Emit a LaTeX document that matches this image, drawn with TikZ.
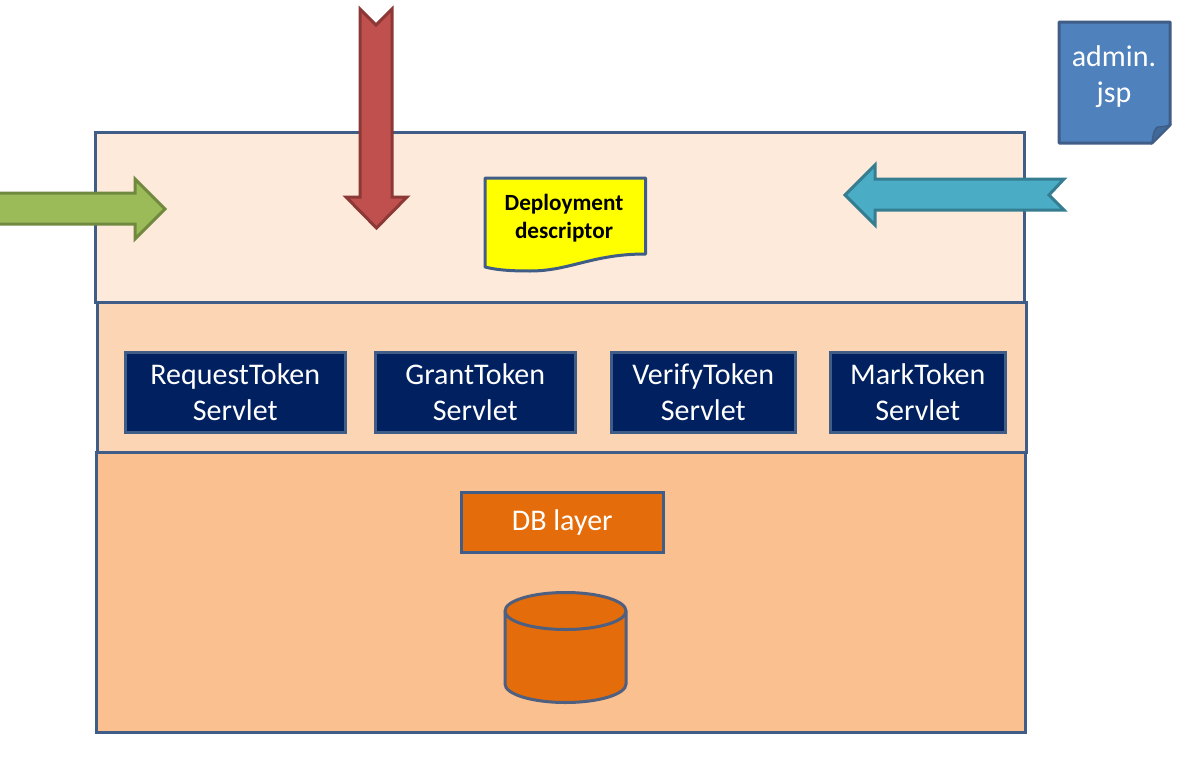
\documentclass[tikz,border=0pt]{standalone}
\usepackage{fontspec}
\setmainfont{Carlito}
\definecolor{edgeblue}{HTML}{3F5D87}
\definecolor{paneltop}{HTML}{FDEADA}
\definecolor{panelmid}{HTML}{FCD5B5}
\definecolor{panelbot}{HTML}{FAC090}
\definecolor{navy}{HTML}{002060}
\definecolor{dborange}{HTML}{E46C0A}
\definecolor{dbedge}{HTML}{4F5F80}
\definecolor{notepaper}{HTML}{FFFF00}
\definecolor{greenfill}{HTML}{9BBB59}
\definecolor{greenedge}{HTML}{71893F}
\definecolor{redfill}{HTML}{C0504D}
\definecolor{rededge}{HTML}{8C3836}
\definecolor{tealfill}{HTML}{4BACC6}
\definecolor{tealedge}{HTML}{357D91}
\definecolor{jspfill}{HTML}{4F81BD}
\definecolor{jspfold}{HTML}{406898}
\tikzset{
  panel/.style={draw=edgeblue,line width=2.25pt,outer sep=0pt,inner sep=0pt},
  bigtext/.style={font=\fontsize{22.5pt}{27pt}\selectfont},
  servlet/.style={draw=edgeblue,line width=2.25pt,fill=navy,text=white,bigtext,align=center,inner sep=0pt,outer sep=0pt},
  arrowshape/.style={line width=2.25pt,line join=miter},
  label/.style={inner sep=0pt,align=center},
}
\newcommand{\boxat}[6]{\node[#1,minimum width=#4*0.75pt,minimum height=#5*0.75pt,anchor=north west] (#2) at (#3) {#6};}
\begin{document}
\begin{tikzpicture}[x=0.75pt,y=-0.75pt]
\useasboundingbox (0,0) rectangle (1179,760);
\fill[white] (0,0) rectangle (1179,760);
% panels
\boxat{panel,fill=paneltop}{top}{95.5,132.5}{929}{169.5}{}
\boxat{panel,fill=panelmid}{mid}{97.5,302.5}{929}{150}{}
\boxat{panel,fill=panelbot}{bot}{96.5,452.5}{929}{279.5}{}
% green arrow
\draw[arrowshape,draw=greenedge,fill=greenfill]
  (-5,193) -- (135,193) -- (135,179) -- (165,209) -- (135,239) -- (135,224) -- (-5,224) -- cycle;
% red arrow
\draw[arrowshape,draw=rededge,fill=redfill]
  (360,9) -- (376,25) -- (392,9) -- (392,197) -- (407,197) -- (376.5,228) -- (346,197) -- (360,197) -- cycle;
% teal arrow
\draw[arrowshape,draw=tealedge,fill=tealfill]
  (845,195) -- (875,165) -- (875,179) -- (1064,179) -- (1049,195) -- (1064,210) -- (875,210) -- (875,225) -- cycle;
% deployment descriptor
\draw[line width=2.25pt,draw=edgeblue,fill=notepaper,line join=round]
  (485,178) -- (645.5,178) -- (645.5,254) .. controls (592,254) and (570,271) .. (530,271) .. controls (510,271) and (497,270) .. (485,267) -- cycle;
\node[label,font=\bfseries\fontsize{17.4pt}{21pt}\selectfont,text=black] (dd) at (564,218) {Deployment\\descriptor};
% admin.jsp
\draw[line width=2.25pt,draw=edgeblue,fill=jspfill,line join=round]
  (1059,22) -- (1170,22) -- (1170,125) -- (1152,143) -- (1059,143) -- cycle;
\fill[fill=jspfold,draw=edgeblue,line width=1pt]
  (1152,143) .. controls (1153,134) and (1154,130) .. (1157,127) .. controls (1162,127) and (1166,126) .. (1170,125) -- cycle;
\node[label,text=white,bigtext] (admin) at (1114,77) {admin.\\jsp};
% servlets
\boxat{servlet}{rt}{125,352}{220.5}{80.5}{RequestToken\\Servlet}
\boxat{servlet}{gt}{375,352}{200.5}{80.5}{GrantToken\\Servlet}
\boxat{servlet}{vt}{611,352}{184.5}{80.5}{VerifyToken\\Servlet}
\boxat{servlet}{mt}{830,352}{175.5}{80.5}{MarkToken\\Servlet}
% DB layer
\boxat{panel,fill=dborange,text=white,bigtext}{db}{461,492}{202.5}{60}{\raisebox{-3.5pt}{DB layer}}
% cylinder
\draw[line width=2.25pt,draw=dbedge,fill=dborange]
  (505,611) -- (505,684) arc[start angle=180,end angle=0,x radius=60.5,y radius=18.5] -- (626,611)
  arc[start angle=0,end angle=-180,x radius=60.5,y radius=18.5] -- cycle;
\draw[line width=2.25pt,draw=dbedge]
  (505,611) arc[start angle=180,end angle=0,x radius=60.5,y radius=18.5];
\end{tikzpicture}
\end{document}
